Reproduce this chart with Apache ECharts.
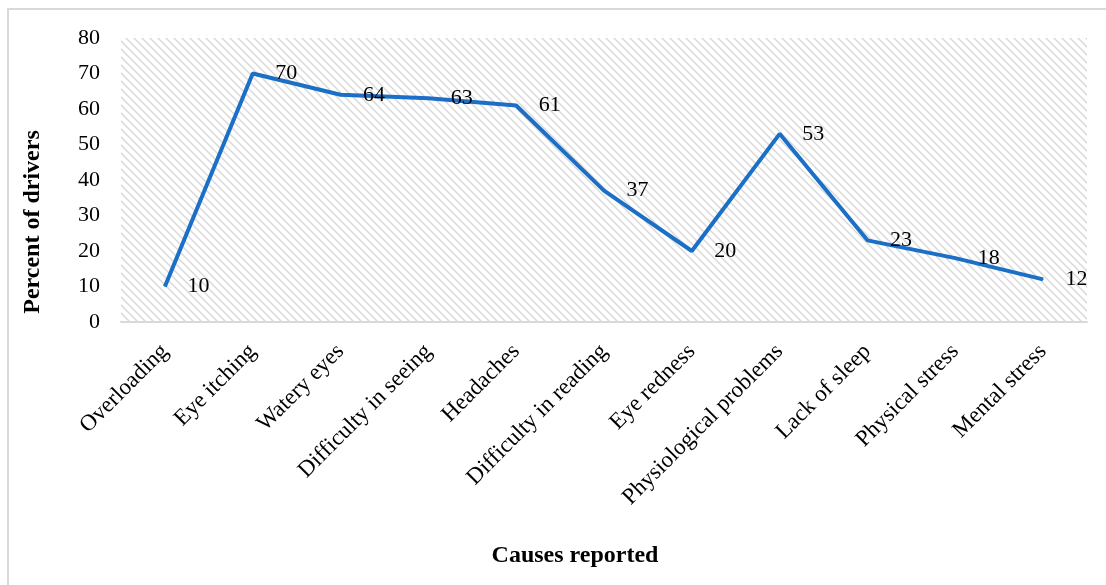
<!DOCTYPE html>
<html>
<head>
<meta charset="utf-8">
<script src="https://cdn.jsdelivr.net/npm/echarts@6/dist/echarts.min.js"></script>
<style>
  html, body { margin: 0; padding: 0; background: #fff; }
  #chart { width: 1106px; height: 585px; }
</style>
</head>
<body>
<div id="chart"></div>
<script>
// Reported causes and share of drivers (%)
const causes = [
  'Overloading', 'Eye itching', 'Watery eyes', 'Difficulty in seeing', 'Headaches',
  'Difficulty in reading', 'Eye redness', 'Physiological problems', 'Lack of sleep',
  'Physical stress', 'Mental stress'
];
const percentValues = [10, 70, 64, 63, 61, 37, 20, 53, 23, 18, 12];
const yTicks = [0, 10, 20, 30, 40, 50, 60, 70, 80];

const FONT = '"Liberation Serif", "Times New Roman", serif';

// Diagonal hatch tile for the plot background
function hatchTile() {
  const size = 8;
  const c = document.createElement('canvas');
  c.width = size; c.height = size;
  const ctx = c.getContext('2d');
  ctx.fillStyle = '#ffffff';
  ctx.fillRect(0, 0, size, size);
  ctx.strokeStyle = '#d9d9d9';
  ctx.lineWidth = 1.5;
  ctx.beginPath();
  ctx.moveTo(-2, -2); ctx.lineTo(size + 2, size + 2);
  ctx.moveTo(-2, size - 2); ctx.lineTo(2, size + 2);
  ctx.moveTo(size - 2, -2); ctx.lineTo(size + 2, 2);
  ctx.stroke();
  return c;
}

const chart = echarts.init(document.getElementById('chart'), null, { renderer: 'canvas' });

chart.setOption({
  animation: false,
  backgroundColor: '#ffffff',
  grid: {
    left: 121, top: 38, right: 19, bottom: 263,
    show: true,
    backgroundColor: { image: hatchTile(), repeat: 'repeat' },
    borderWidth: 0
  },
  xAxis: {
    type: 'category',
    data: causes,
    boundaryGap: true,
    axisLine: { show: true, lineStyle: { color: '#d9d9d9', width: 2 } },
    axisTick: { show: false },
    axisLabel: {
      rotate: 45,
      interval: 0,
      margin: 26,
      color: '#000',
      fontFamily: FONT,
      fontSize: 23
    }
  },
  yAxis: {
    type: 'value',
    min: yTicks[0],
    max: yTicks[yTicks.length - 1],
    interval: 10,
    axisLine: { show: false },
    axisTick: { show: false },
    splitLine: { show: false },
    axisLabel: {
      color: '#000',
      fontFamily: FONT,
      fontSize: 22,
      margin: 21
    }
  },
  series: [{
    type: 'line',
    data: percentValues,
    symbol: 'circle',
    symbolSize: 1,
    itemStyle: { color: '#1b6fc6' },
    lineStyle: { color: '#1b6fc6', width: 4 },
    label: {
      show: true,
      position: 'right',
      distance: 22,
      color: '#000',
      fontFamily: FONT,
      fontSize: 22
    },
    z: 3
  }],
  graphic: [
    {
      type: 'rect',
      shape: { x: 8, y: 9, width: 1200, height: 700 },
      style: { fill: null, stroke: '#d9d9d9', lineWidth: 2 },
      silent: true
    },
    {
      type: 'text',
      x: 33, y: 222,
      rotation: Math.PI / 2,
      style: {
        text: 'Percent of drivers',
        fontFamily: FONT,
        fontSize: 24,
        fontWeight: 'bold',
        fill: '#000',
        align: 'center',
        verticalAlign: 'middle'
      }
    },
    {
      type: 'text',
      x: 575, y: 556,
      style: {
        text: 'Causes reported',
        fontFamily: FONT,
        fontSize: 24,
        fontWeight: 'bold',
        fill: '#000',
        align: 'center',
        verticalAlign: 'middle'
      }
    }
  ]
});
</script>
</body>
</html>
